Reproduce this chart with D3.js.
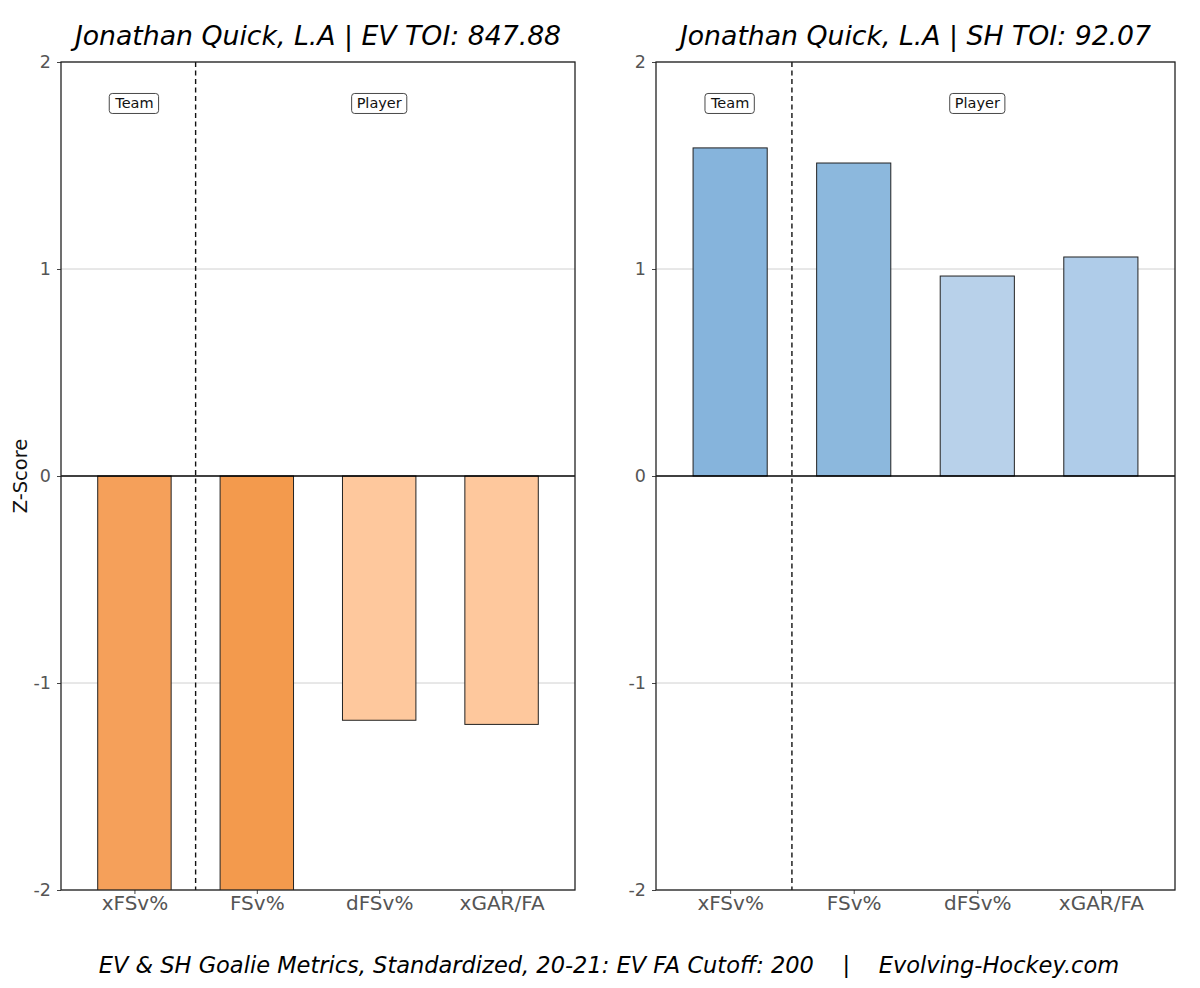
<!DOCTYPE html>
<html>
<head>
<meta charset="utf-8">
<script src="https://cdn.jsdelivr.net/npm/d3@7"></script>
<style>
  body { margin: 0; background: #fff; }
  svg { font-family: "DejaVu Sans", sans-serif; }
</style>
</head>
<body>
<div id="chart"></div>
<script>
// metrics shown on both panels
const metrics = ["xFSv%", "FSv%", "dFSv%", "xGAR/FA"];
const groupLabels = ["Team", "Player"];
const groupAt = [0, 2];

// EV panel (bars below -2 are clipped by the axis)
const evTitle = "Jonathan Quick, L.A | EV TOI: 847.88";
const evValues = [-2.4, -2.4, -1.18, -1.2];
const evColors = ["#f5a05a", "#f39a4d", "#fec89d", "#fec89d"];

// SH panel
const shTitle = "Jonathan Quick, L.A | SH TOI: 92.07";
const shValues = [1.585, 1.512, 0.966, 1.058];
const shColors = ["#86b4dc", "#8cb8dd", "#b8d1ea", "#afcce9"];

const yTicks = [-2, -1, 0, 1, 2];
const footer = "EV & SH Goalie Metrics, Standardized, 20-21: EV FA Cutoff: 200    |    Evolving-Hockey.com";

const width = 1200, height = 988;
const svg = d3.select("#chart").append("svg")
    .attr("width", width)
    .attr("height", height);

const panels = [
    {title: evTitle, values: evValues, colors: evColors, left: 61, right: 575, ylabel: true},
    {title: shTitle, values: shValues, colors: shColors, left: 656, right: 1175, ylabel: false}
];
const plotTop = 62, plotBottom = 890;

const y = d3.scaleLinear().domain([-2, 2]).range([plotBottom, plotTop]);

panels.forEach((p, pi) => {
    const x = d3.scaleLinear().domain([-0.6, 3.6]).range([p.left, p.right]);
    const g = svg.append("g");
    const clipId = "clip" + pi;

    g.append("clipPath").attr("id", clipId)
        .append("rect")
        .attr("x", p.left).attr("y", plotTop)
        .attr("width", p.right - p.left).attr("height", plotBottom - plotTop);

    // grid lines
    g.append("g").selectAll("line")
        .data(yTicks.filter(t => t !== 0))
        .join("line")
        .attr("x1", p.left).attr("x2", p.right)
        .attr("y1", d => y(d)).attr("y2", d => y(d))
        .attr("stroke", "#d0d0d0")
        .attr("stroke-width", 1);

    // bars
    const barW = 0.6;
    g.append("g").attr("clip-path", `url(#${clipId})`)
        .selectAll("rect")
        .data(p.values)
        .join("rect")
        .attr("x", (d, i) => x(i - barW / 2))
        .attr("width", x(barW) - x(0))
        .attr("y", d => y(Math.max(d, 0)))
        .attr("height", d => Math.abs(y(d) - y(0)))
        .attr("fill", (d, i) => p.colors[i])
        .attr("stroke", "#222")
        .attr("stroke-width", 1);

    // zero line
    g.append("line")
        .attr("x1", p.left).attr("x2", p.right)
        .attr("y1", y(0)).attr("y2", y(0))
        .attr("stroke", "#000")
        .attr("stroke-width", 1.3);

    // divider between team and player metrics
    g.append("line")
        .attr("x1", x(0.5)).attr("x2", x(0.5))
        .attr("y1", plotTop).attr("y2", plotBottom)
        .attr("stroke", "#111")
        .attr("stroke-width", 1.4)
        .attr("stroke-dasharray", "5,3.5");

    // group labels
    groupLabels.forEach((lab, i) => {
        const t = g.append("text")
            .attr("x", x(groupAt[i]))
            .attr("y", y(1.8))
            .attr("dy", "0.35em")
            .attr("text-anchor", "middle")
            .attr("font-size", 14.5)
            .attr("fill", "#111")
            .text(lab);
        const bb = t.node().getBBox();
        g.insert("rect", "text")
            .attr("x", bb.x - 5).attr("y", bb.y - 2)
            .attr("width", bb.width + 10).attr("height", bb.height + 4)
            .attr("rx", 3)
            .attr("fill", "#fff")
            .attr("stroke", "#333")
            .attr("stroke-width", 0.9);
    });

    // axes
    const yAxis = g.append("g")
        .attr("transform", `translate(${p.left},0)`)
        .call(d3.axisLeft(y).tickValues(yTicks).tickSize(4).tickPadding(6).tickFormat(d => String(d)));
    yAxis.select(".domain").remove();
    yAxis.selectAll("text").attr("font-size", 17.5).attr("fill", "#555").attr("font-family", "DejaVu Sans");
    yAxis.selectAll("line").attr("stroke", "#444");

    const xAxis = g.append("g")
        .attr("transform", `translate(0,${plotBottom})`)
        .call(d3.axisBottom(x).tickValues(d3.range(metrics.length)).tickSize(4).tickPadding(2)
            .tickFormat(i => metrics[i]));
    xAxis.select(".domain").remove();
    xAxis.selectAll("text").attr("font-size", 20).attr("fill", "#555").attr("font-family", "DejaVu Sans");
    xAxis.selectAll("line").attr("stroke", "#444");

    // frame
    g.append("rect")
        .attr("x", p.left).attr("y", plotTop)
        .attr("width", p.right - p.left).attr("height", plotBottom - plotTop)
        .attr("fill", "none")
        .attr("stroke", "#222")
        .attr("stroke-width", 1.3);

    // title
    g.append("text")
        .attr("x", (p.left + p.right) / 2)
        .attr("y", 45)
        .attr("text-anchor", "middle")
        .attr("font-size", 26.7)
        .attr("font-style", "italic")
        .attr("fill", "#000")
        .text(p.title);

    if (p.ylabel) {
        svg.append("text")
            .attr("transform", `translate(27,${y(0)}) rotate(-90)`)
            .attr("text-anchor", "middle")
            .attr("font-size", 19.5)
            .attr("fill", "#111")
            .text("Z-Score");
    }
});

svg.append("text")
    .attr("x", 609)
    .attr("y", 973)
    .attr("text-anchor", "middle")
    .attr("font-size", 22.5)
    .attr("font-style", "italic")
    .attr("fill", "#000")
    .attr("xml:space", "preserve")
    .style("white-space", "pre")
    .text(footer);
</script>
</body>
</html>
